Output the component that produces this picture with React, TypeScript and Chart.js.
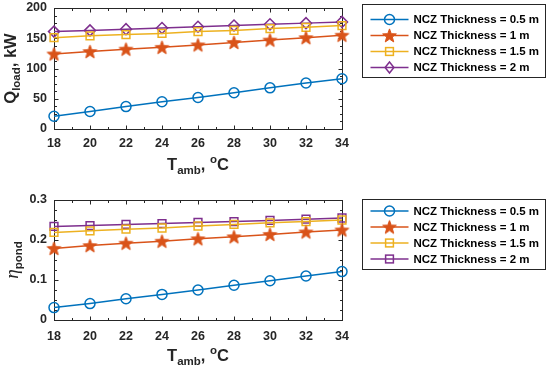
import React, { useEffect, useRef } from 'react';
import { Chart, registerables } from 'chart.js';
Chart.register(...registerables);

// ---------- data ----------
const tAmb = [18, 20, 22, 24, 26, 28, 30, 32, 34];
const seriesLabels = [
  'NCZ Thickness = 0.5 m',
  'NCZ Thickness = 1 m',
  'NCZ Thickness = 1.5 m',
  'NCZ Thickness = 2 m',
];
const qLoad05 = [21, 29, 37, 45, 52, 60, 68, 76, 83];
const qLoad1 = [124, 128, 132, 135, 139, 143, 147, 151, 155];
const qLoad15 = [151, 154, 156, 158, 161, 163, 166, 168, 171];
const qLoad2 = [161, 163, 165, 167, 169, 171, 173, 175, 177];
const eta05 = [0.031, 0.041, 0.053, 0.064, 0.075, 0.087, 0.098, 0.11, 0.121];
const eta1 = [0.179, 0.186, 0.192, 0.197, 0.203, 0.208, 0.214, 0.22, 0.225];
const eta15 = [0.219, 0.223, 0.227, 0.23, 0.235, 0.239, 0.243, 0.246, 0.25];
const eta2 = [0.234, 0.236, 0.239, 0.241, 0.244, 0.246, 0.249, 0.252, 0.255];

const COLORS = ['#0072BD', '#D95319', '#EDB120', '#7E2F8E'];
const FONT = "'Liberation Sans', Arial, Helvetica, sans-serif";
const AX = '#262626';

function makeStar(color: string) {
  const c = document.createElement('canvas');
  const s = 17;
  c.width = s;
  c.height = s;
  const ctx = c.getContext('2d')!;
  const cx = s / 2, cy = s / 2 + 0.6;
  const R = 7.2, r = 3.0;
  ctx.beginPath();
  for (let i = 0; i < 10; i++) {
    const a = -Math.PI / 2 + (i * Math.PI) / 5;
    const rad = i % 2 === 0 ? R : r;
    ctx.lineTo(cx + rad * Math.cos(a), cy + rad * Math.sin(a));
  }
  ctx.closePath();
  ctx.fillStyle = color;
  ctx.fill();
  ctx.strokeStyle = color;
  ctx.lineWidth = 1;
  ctx.stroke();
  return c;
}

type Seg = { t: string; size: number; dy?: number; font?: string };

function segWidth(ctx: CanvasRenderingContext2D, segs: Seg[]) {
  let w = 0;
  for (const s of segs) {
    ctx.font = s.font || `bold ${s.size}px ${FONT}`;
    w += ctx.measureText(s.t).width;
  }
  return w;
}
function drawSegs(ctx: CanvasRenderingContext2D, segs: Seg[], x: number, y: number) {
  const w = segWidth(ctx, segs);
  let cx = x - w / 2;
  ctx.textAlign = 'left';
  ctx.textBaseline = 'alphabetic';
  ctx.fillStyle = AX;
  for (const s of segs) {
    ctx.font = s.font || `bold ${s.size}px ${FONT}`;
    ctx.fillText(s.t, cx, y + (s.dy || 0));
    cx += ctx.measureText(s.t).width;
  }
}

function drawMarker(ctx: CanvasRenderingContext2D, style: any, x: number, y: number, color: string, radius: number) {
  ctx.save();
  ctx.strokeStyle = color;
  ctx.lineWidth = 1.5;
  if (style instanceof HTMLCanvasElement) {
    ctx.drawImage(style, x - style.width / 2, y - style.height / 2);
  } else if (style === 'circle') {
    ctx.beginPath();
    ctx.arc(x, y, radius, 0, Math.PI * 2);
    ctx.stroke();
  } else if (style === 'rect') {
    const h = radius * Math.SQRT1_2;
    ctx.strokeRect(x - h, y - h, 2 * h, 2 * h);
  } else if (style === 'rectRot') {
    ctx.beginPath();
    ctx.moveTo(x, y - radius);
    ctx.lineTo(x + radius * 0.8, y);
    ctx.lineTo(x, y + radius);
    ctx.lineTo(x - radius * 0.8, y);
    ctx.closePath();
    ctx.stroke();
  }
  ctx.restore();
}

type PanelCfg = {
  xTitle: Seg[];
  yTitle: Seg[];
  yTitleX: number;
  xMinor: number;
  yMinor: number;
  legendTop: number;
  legendHeight: number;
  legendFirst: number;
  styles: any[];
  radii: number[];
};

function makePlugin(cfg: PanelCfg) {
  return {
    id: 'matlabFrame',
    beforeDatasetsDraw(chart: any) {
      const ctx = chart.ctx as CanvasRenderingContext2D;
      const a = chart.chartArea;
      const xs = chart.scales.x;
      const ys = chart.scales.y;
      ctx.save();
      ctx.strokeStyle = AX;
      ctx.lineWidth = 1;
      const L = Math.round(a.left) + 0.5, R = Math.round(a.right) + 0.5;
      const T = Math.round(a.top) + 0.5, B = Math.round(a.bottom) + 0.5;
      ctx.strokeRect(L, T, R - L, B - T);
      ctx.beginPath();
      for (let v = xs.min; v <= xs.max + 1e-9; v += cfg.xMinor) {
        const px = Math.round(xs.getPixelForValue(v)) + 0.5;
        const major = xs.ticks.some((t: any) => Math.abs(t.value - v) < 1e-6);
        const len = major ? 4 : 2.5;
        ctx.moveTo(px, B);
        ctx.lineTo(px, B - len);
        ctx.moveTo(px, T);
        ctx.lineTo(px, T + len);
      }
      for (let v = ys.min; v <= ys.max + 1e-9; v += cfg.yMinor) {
        const py = Math.round(ys.getPixelForValue(v)) + 0.5;
        const major = ys.ticks.some((t: any) => Math.abs(t.value - v) < 1e-6);
        const len = major ? 4 : 2.5;
        ctx.moveTo(L, py);
        ctx.lineTo(L + len, py);
        ctx.moveTo(R, py);
        ctx.lineTo(R - len, py);
      }
      ctx.stroke();
      ctx.restore();
    },
    afterDraw(chart: any) {
      const ctx = chart.ctx as CanvasRenderingContext2D;
      const a = chart.chartArea;
      ctx.save();
      drawSegs(ctx, cfg.xTitle, (a.left + a.right) / 2, a.bottom + 41);
      ctx.save();
      ctx.translate(cfg.yTitleX, (a.top + a.bottom) / 2);
      ctx.rotate(-Math.PI / 2);
      drawSegs(ctx, cfg.yTitle, 0, 0);
      ctx.restore();
      const bx = Math.round(a.right) + 20.5;
      const by = Math.round(a.top + cfg.legendTop) + 0.5;
      const bw = 183;
      ctx.fillStyle = '#ffffff';
      ctx.fillRect(bx, by, bw, cfg.legendHeight);
      ctx.strokeStyle = AX;
      ctx.lineWidth = 1;
      ctx.strokeRect(bx, by, bw, cfg.legendHeight);
      chart.data.datasets.forEach((ds: any, i: number) => {
        const y = by + cfg.legendFirst + i * 16;
        ctx.strokeStyle = ds.borderColor;
        ctx.lineWidth = 1.5;
        ctx.beginPath();
        ctx.moveTo(bx + 8, y);
        ctx.lineTo(bx + 46, y);
        ctx.stroke();
        drawMarker(ctx, cfg.styles[i], bx + 27, y, ds.borderColor, cfg.radii[i]);
        ctx.fillStyle = '#000000';
        ctx.font = `bold 11.5px ${FONT}`;
        ctx.textAlign = 'left';
        ctx.textBaseline = 'middle';
        ctx.fillText(ds.label, bx + 51, y + 0.5);
      });
      ctx.restore();
    },
  };
}

function buildConfig(
  series: number[][],
  styles: any[],
  radii: number[],
  yMin: number,
  yMax: number,
  yStep: number,
  padTop: number,
  xHeight: number,
  xPad: number,
  cfg: PanelCfg
): any {
  return {
    type: 'line',
    data: {
      datasets: series.map((vals, i) => ({
        label: seriesLabels[i],
        data: tAmb.map((x, j) => ({ x, y: vals[j] })),
        borderColor: COLORS[i],
        backgroundColor: 'rgba(0,0,0,0)',
        borderWidth: 1.5,
        pointStyle: styles[i],
        pointRadius: radii[i],
        pointBorderWidth: 1.5,
        pointBorderColor: COLORS[i],
        pointBackgroundColor: 'rgba(0,0,0,0)',
        tension: 0,
        clip: false,
      })),
    },
    options: {
      animation: false,
      responsive: false,
      devicePixelRatio: 1,
      events: [],
      layout: { padding: { left: 0, top: padTop, right: 208, bottom: 0 } },
      plugins: { legend: { display: false }, tooltip: { enabled: false } },
      scales: {
        x: {
          type: 'linear',
          min: 18,
          max: 34,
          ticks: {
            stepSize: 2,
            color: AX,
            padding: xPad,
            font: { family: FONT, size: 12.5, weight: 'bold' },
            maxRotation: 0,
          },
          grid: { display: false, drawTicks: false },
          border: { display: false },
          afterFit: (s: any) => {
            s.height = xHeight;
            s.paddingLeft = 0;
            s.paddingRight = 0;
            s.paddingTop = 0;
            s.paddingBottom = 0;
          },
        },
        y: {
          type: 'linear',
          min: yMin,
          max: yMax,
          ticks: {
            stepSize: yStep,
            color: AX,
            padding: 7,
            font: { family: FONT, size: 12.5, weight: 'bold' },
          },
          grid: { display: false, drawTicks: false },
          border: { display: false },
          afterFit: (s: any) => {
            s.width = 54;
            s.paddingTop = 0;
            s.paddingBottom = 0;
            s.paddingLeft = 0;
            s.paddingRight = 0;
          },
        },
      },
    },
    plugins: [makePlugin(cfg)],
  };
}

function Panel(props: { make: () => any; top: number; height: number }) {
  const ref = useRef<HTMLCanvasElement>(null);
  useEffect(() => {
    const chart = new Chart(ref.current!, props.make());
    return () => chart.destroy();
  }, []);
  return (
    <canvas
      ref={ref}
      width={550}
      height={props.height}
      style={{ position: 'absolute', left: 0, top: props.top, width: 550, height: props.height, display: 'block' }}
    />
  );
}

const xTitleSegs: Seg[] = [
  { t: 'T', size: 16.5 },
  { t: 'amb', size: 11.5, dy: 4 },
  { t: ',', size: 16.5 },
  { t: ' ', size: 16.5 },
  { t: 'o', size: 11.5, dy: -7 },
  { t: 'C', size: 16.5 },
];

export default function App() {
  const star = makeStar(COLORS[1]);
  const topStyles = ['circle', star, 'rect', 'rectRot'];
  const topRadii = [5, 6, 5.5, 5.5];
  const botStyles = ['circle', star, 'rect', 'rect'];
  const botRadii = [5, 6, 5.5, 5.5];

  const makeTop = () =>
    buildConfig([qLoad05, qLoad1, qLoad15, qLoad2], topStyles, topRadii, 0, 200, 50, 8, 57, 7, {
      xTitle: xTitleSegs,
      yTitle: [
        { t: 'Q', size: 16.5 },
        { t: 'load', size: 11.5, dy: 4 },
        { t: ', kW', size: 16.5 },
      ],
      yTitleX: 16,
      xMinor: 1,
      yMinor: 12.5,
      legendTop: -4,
      legendHeight: 73,
      legendFirst: 15,
      styles: topStyles,
      radii: topRadii,
    });
  const makeBot = () =>
    buildConfig([eta05, eta1, eta15, eta2], botStyles, botRadii, 0, 0.3, 0.1, 14, 53, 9, {
      xTitle: xTitleSegs,
      yTitle: [
        { t: 'η', size: 19, font: `italic 19px 'Liberation Serif', 'DejaVu Serif', serif` },
        { t: 'pond', size: 11.5, dy: 4 },
      ],
      yTitleX: 18,
      xMinor: 1,
      yMinor: 0.025,
      legendTop: -1,
      legendHeight: 70,
      legendFirst: 11.5,
      styles: botStyles,
      radii: botRadii,
    });

  return (
    <div style={{ position: 'absolute', left: 0, top: 0, width: 550, height: 373, background: '#fff' }}>
      <Panel make={makeTop} top={0} height={186} />
      <Panel make={makeBot} top={186} height={187} />
    </div>
  );
}
